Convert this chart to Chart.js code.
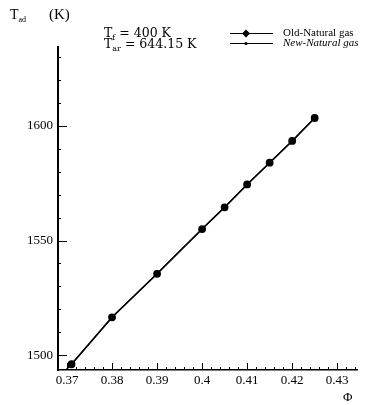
<!DOCTYPE html>
<html>
<head>
<meta charset="utf-8">
<script src="https://cdn.jsdelivr.net/npm/chart.js@4"></script>
<style>
  body { margin: 0; background: #fff; }
  #wrap { position: relative; width: 373px; height: 405px; font-family: "Liberation Serif", serif; color: #000; }
  .lbl { position: absolute; white-space: nowrap; line-height: 1; }
  .dv { font-family: "DejaVu Serif", serif; }
  sub { font-size: 8px; vertical-align: -3px; }
</style>
</head>
<body>
<div id="wrap">
  <canvas id="myChart" width="373" height="405"></canvas>
  <div class="lbl" style="left:10px;top:8px;font-size:14px;">T<sub>ad</sub></div>
  <div class="lbl" style="left:49px;top:7px;font-size:15px;">(K)</div>
  <div class="lbl dv" style="left:104px;top:27px;font-size:12.5px;">T<sub>f</sub> = 400 K</div>
  <div class="lbl dv" style="left:104px;top:38px;font-size:12.5px;">T<sub>ar</sub> = 644.15 K</div>
  <div class="lbl" style="left:283px;top:27px;font-size:11px;">Old-Natural gas</div>
  <div class="lbl" style="left:283px;top:37px;font-size:11px;"><i>New-Natural gas</i></div>
  <div class="lbl" style="left:343px;top:390px;font-size:13px;">Φ</div>
</div>
<script>
// datos
const phiOld = [0.371, 0.38, 0.39, 0.40, 0.405, 0.41, 0.415, 0.42, 0.425];
const tOld = [1496, 1516.5, 1535.5, 1555, 1564.5, 1574.5, 1584, 1593.5, 1603.5];
const phiNew = [0.368, 0.371, 0.38, 0.39, 0.40, 0.405, 0.41, 0.415, 0.42, 0.425];
const tNew = [1490, 1496, 1516.5, 1535.5, 1555, 1564.5, 1574.5, 1584, 1593.5, 1603.5];

const xTicks = [0.37, 0.38, 0.39, 0.4, 0.41, 0.42, 0.43];
const yTicks = [1500, 1550, 1600];

// ticks hacia adentro (mayores y menores)
const inwardTicks = {
  id: 'inwardTicks',
  afterDatasetsDraw(chart) {
    const { ctx, chartArea: a, scales: { x, y } } = chart;
    ctx.save();
    ctx.strokeStyle = '#000';
    ctx.lineWidth = 1;
    ctx.beginPath();
    for (let v = 1500; v <= 1630; v += 10) {
      const py = Math.round(y.getPixelForValue(v)) + 0.5;
      const len = yTicks.includes(v) ? 9 : 3;
      ctx.moveTo(a.left, py);
      ctx.lineTo(a.left + len, py);
    }
    for (let i = 0; i <= 32; i++) {
      const v = 0.37 + i * 0.002;
      const px = Math.round(x.getPixelForValue(v)) + 0.5;
      const len = i % 5 === 0 ? 7 : 3;
      ctx.moveTo(px, a.bottom);
      ctx.lineTo(px, a.bottom - len);
    }
    ctx.stroke();

    // simbolos de la leyenda
    ctx.lineWidth = 1;
    ctx.beginPath();
    ctx.moveTo(230, 33.5); ctx.lineTo(273, 33.5);
    ctx.moveTo(230, 43.5); ctx.lineTo(273, 43.5);
    ctx.stroke();
    ctx.fillStyle = '#000';
    ctx.beginPath();
    ctx.moveTo(246, 29.5); ctx.lineTo(250, 33.5); ctx.lineTo(246, 37.5); ctx.lineTo(242, 33.5);
    ctx.closePath();
    ctx.fill();
    ctx.beginPath();
    ctx.arc(246, 43.5, 1.6, 0, Math.PI * 2);
    ctx.fill();
    ctx.restore();
  }
};

const ctx = document.querySelector('#myChart');

new Chart(ctx, {
  type: 'scatter',
  data: {
    datasets: [
      {
        label: 'Old-Natural gas',
        data: phiOld.map((p, i) => ({ x: p, y: tOld[i] })),
        showLine: true,
        borderColor: '#000',
        backgroundColor: '#000',
        borderWidth: 1.4,
        pointRadius: 3.2,
        pointStyle: 'circle'
      },
      {
        label: 'New-Natural gas',
        data: phiNew.map((p, i) => ({ x: p, y: tNew[i] })),
        showLine: true,
        borderColor: '#000',
        backgroundColor: '#000',
        borderWidth: 1.4,
        pointRadius: 1.5
      }
    ]
  },
  options: {
    responsive: false,
    animation: false,
    layout: { padding: { top: 47, right: 16, left: 0, bottom: 0 } },
    plugins: { legend: { display: false }, tooltip: { enabled: false } },
    scales: {
      x: {
        type: 'linear',
        min: 0.368,
        max: 0.4344,
        afterBuildTicks: s => { s.ticks = xTicks.map(v => ({ value: v })); },
        afterFit: s => { s.height = 35; },
        grid: { display: false, drawTicks: false },
        border: { display: true, color: '#000', width: 1.5 },
        ticks: {
          color: '#000',
          padding: 3,
          maxRotation: 0,
          font: { family: 'Liberation Serif', size: 13 },
          callback: v => String(v)
        }
      },
      y: {
        type: 'linear',
        min: 1493.5,
        max: 1634.5,
        afterBuildTicks: s => { s.ticks = yTicks.map(v => ({ value: v })); },
        afterFit: s => { s.width = 58; },
        grid: { display: false, drawTicks: false },
        border: { display: true, color: '#000', width: 2 },
        ticks: {
          color: '#000',
          padding: 5,
          font: { family: 'Liberation Serif', size: 13 },
          callback: v => String(v)
        }
      }
    }
  },
  plugins: [inwardTicks]
});
</script>
</body>
</html>
